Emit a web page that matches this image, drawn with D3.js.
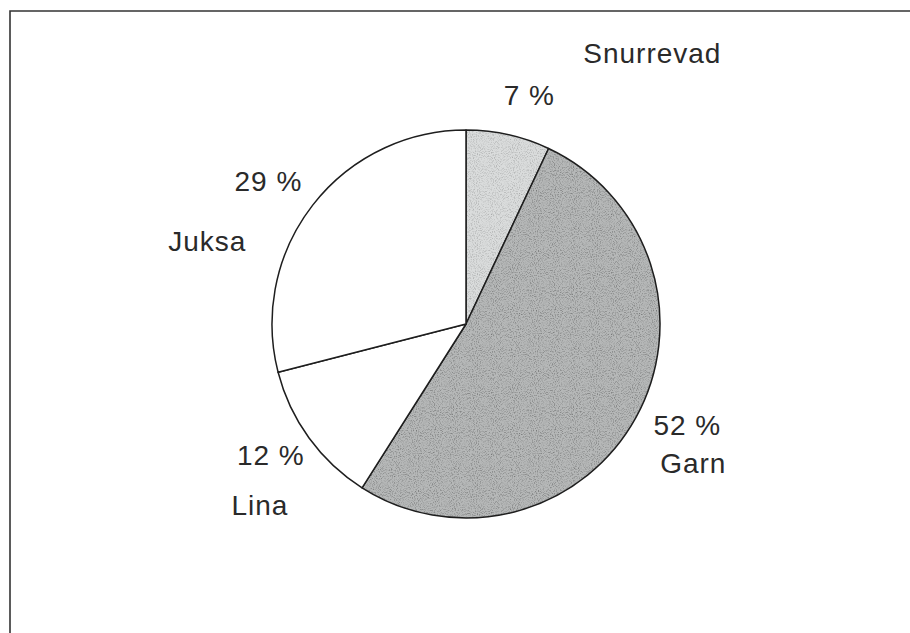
<!DOCTYPE html>
<html>
<head>
<meta charset="utf-8">
<script src="https://cdn.jsdelivr.net/npm/d3@7"></script>
<style>
  body { margin: 0; background: #fff; }
  svg text { font-family: "Liberation Sans", Arial, sans-serif; }
</style>
</head>
<body>
<div class="canvas"></div>
<script>
// Data
const categories = ["Snurrevad", "Garn", "Lina", "Juksa"];
const shares = [7, 52, 12, 29];
const pctLabels = ["7 %", "52 %", "12 %", "29 %"];

const dims = { width: 910, height: 633, radius: 194 };
const cent = { x: 466, y: 324 };

// Per-slice label nudges from the outer label ring (layout only)
const pctNudge = [[11, 5], [11, -15], [-1, -10], [-8, 4]];
const nameNudge = [[134, -37], [17, 23], [-12, 40], [-69, 64]];

const svg = d3
  .select(".canvas")
  .append("svg")
  .attr("width", dims.width)
  .attr("height", dims.height);

// Grainy fills, like a scanned print
const defs = svg.append("defs");
const noise = defs
  .append("filter")
  .attr("id", "grain")
  .attr("x", 0)
  .attr("y", 0)
  .attr("width", "100%")
  .attr("height", "100%");
noise
  .append("feTurbulence")
  .attr("type", "fractalNoise")
  .attr("baseFrequency", 0.95)
  .attr("numOctaves", 2)
  .attr("seed", 3);
noise
  .append("feColorMatrix")
  .attr("type", "matrix")
  .attr("values", "0 0 0 0 0  0 0 0 0 0  0 0 0 0 0  0 0 0 -1.4 0.75");

const fills = { Snurrevad: "#dadcdc", Garn: "#b6b8b8", Lina: "#ffffff", Juksa: "#ffffff" };

categories.forEach((c) => {
  if (fills[c] === "#ffffff") return;
  const p = defs
    .append("pattern")
    .attr("id", "fill-" + c)
    .attr("patternUnits", "userSpaceOnUse")
    .attr("width", 120)
    .attr("height", 120);
  p.append("rect").attr("width", 120).attr("height", 120).attr("fill", fills[c]);
  p.append("rect")
    .attr("width", 120)
    .attr("height", 120)
    .attr("filter", "url(#grain)")
    .attr("opacity", c === "Garn" ? 0.55 : 0.35);
});

// Frame (runs off the right and bottom of the picture)
svg
  .append("path")
  .attr("d", `M10,${dims.height + 5} L10,11 L${dims.width + 5},11`)
  .attr("fill", "none")
  .attr("stroke", "#333")
  .attr("stroke-width", 1.6);

const graph = svg
  .append("g")
  .attr("transform", `translate(${cent.x}, ${cent.y})`);

const data = categories.map((c, i) => ({ name: c, value: shares[i], label: pctLabels[i] }));

const pie = d3
  .pie()
  .sort(null)
  .value((d) => d.value);

const arcPath = d3.arc().innerRadius(0).outerRadius(dims.radius);
const labelArc = d3.arc().innerRadius(240).outerRadius(240);

const arcs = pie(data);

graph
  .selectAll("path.slice")
  .data(arcs)
  .enter()
  .append("path")
  .attr("class", "slice")
  .attr("d", arcPath)
  .attr("fill", (d) => (fills[d.data.name] === "#ffffff" ? "#fff" : `url(#fill-${d.data.name})`))
  .attr("stroke", "#1e1e1e")
  .attr("stroke-width", 1.5)
  .attr("stroke-linejoin", "round");

// Percentage labels
graph
  .selectAll("text.pct")
  .data(arcs)
  .enter()
  .append("text")
  .attr("class", "pct")
  .attr("x", (d, i) => labelArc.centroid(d)[0] + pctNudge[i][0])
  .attr("y", (d, i) => labelArc.centroid(d)[1] + pctNudge[i][1])
  .attr("text-anchor", "middle")
  .attr("dy", "0.36em")
  .attr("font-size", 28)
  .attr("letter-spacing", 1)
  .attr("fill", "#2a2a2a")
  .text((d) => d.data.label);

// Category labels
graph
  .selectAll("text.name")
  .data(arcs)
  .enter()
  .append("text")
  .attr("class", "name")
  .attr("x", (d, i) => labelArc.centroid(d)[0] + nameNudge[i][0])
  .attr("y", (d, i) => labelArc.centroid(d)[1] + nameNudge[i][1])
  .attr("text-anchor", "middle")
  .attr("dy", "0.36em")
  .attr("font-size", 28)
  .attr("letter-spacing", 1)
  .attr("fill", "#2a2a2a")
  .text((d) => d.data.name);
</script>
</body>
</html>
